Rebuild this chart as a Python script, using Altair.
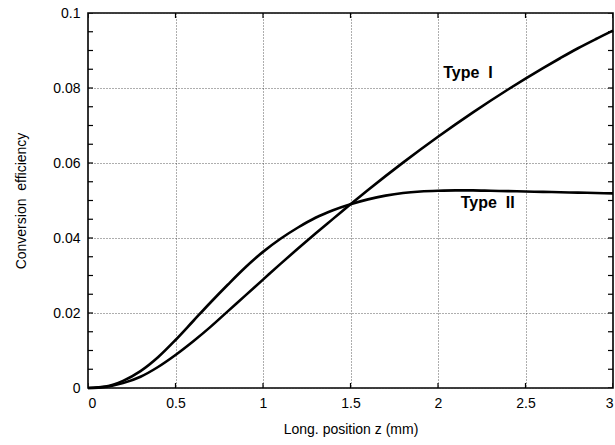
import altair as alt
import pandas as pd

# Longitudinal position along the crystal (mm)
z_mm = [0.0, 0.1, 0.2, 0.3, 0.4, 0.5, 0.6, 0.7, 0.8, 0.9, 1.0,
        1.1, 1.2, 1.3, 1.4, 1.5, 1.6, 1.7, 1.8, 1.9, 2.0,
        2.1, 2.2, 2.3, 2.4, 2.5, 2.6, 2.7, 2.8, 2.9, 3.0]

# Conversion efficiency, type I phase matching
eff_type1 = [0.0, 0.0003, 0.0013, 0.0030, 0.0056, 0.0088, 0.0124, 0.0163, 0.0205, 0.0247, 0.0289,
             0.0331, 0.0372, 0.0412, 0.0451, 0.0490, 0.0528, 0.0565, 0.0601, 0.0636, 0.0670,
             0.0703, 0.0735, 0.0766, 0.0796, 0.0825, 0.0853, 0.0880, 0.0906, 0.0930, 0.0953]

# Conversion efficiency, type II phase matching
eff_type2 = [0.0, 0.0004, 0.0019, 0.0045, 0.0082, 0.0128, 0.0178, 0.0228, 0.0276, 0.0322, 0.0363,
             0.0398, 0.0428, 0.0454, 0.0474, 0.0490, 0.0503, 0.0513, 0.0520, 0.0524, 0.0526,
             0.0527, 0.0527, 0.0526, 0.0525, 0.0524, 0.0523, 0.0522, 0.0521, 0.0520, 0.0519]

# Curve annotations
label_text = ["Type\u00a0\u00a0I", "Type\u00a0\u00a0II"]
label_z = [2.03, 2.13]
label_eff = [0.0840, 0.0493]

x_major = [0, 0.5, 1, 1.5, 2, 2.5, 3]
y_major = [0, 0.02, 0.04, 0.06, 0.08, 0.1]
y_minor = [round(i * 0.005, 3) for i in range(21)]

FONT = "Liberation Sans"
W, H = 525, 375
X_MIN, X_MAX = 0, 3
Y_MIN, Y_MAX = 0, 0.1

df = pd.DataFrame({
    "z": z_mm * 2,
    "eff": eff_type1 + eff_type2,
    "series": ["Type I"] * len(z_mm) + ["Type II"] * len(z_mm),
})
labels = pd.DataFrame({"text": label_text, "z": label_z, "eff": label_eff})

# Frame tick positions: vertical ticks on bottom/top edges, horizontal on left/right
vticks = pd.DataFrame({
    "z": x_major * 2,
    "eff": [Y_MIN] * len(x_major) + [Y_MAX] * len(x_major),
})
hticks = pd.DataFrame({
    "z": [X_MIN] * len(y_minor) + [X_MAX] * len(y_minor),
    "eff": y_minor * 2,
})

xscale = alt.Scale(domain=[X_MIN, X_MAX], nice=False, zero=False)
yscale = alt.Scale(domain=[Y_MIN, Y_MAX], nice=False, zero=False)

grid_axis = dict(domain=False, ticks=False, tickSize=0, grid=True,
                 gridColor="#333333", gridDash=[1, 2], gridWidth=0.8,
                 labelFont=FONT, labelFontSize=14, labelColor="black",
                 titleFont=FONT, titleFontSize=14, titleFontWeight="normal",
                 titleColor="black", format="~g")

curves = alt.Chart(df).mark_line(color="black", strokeWidth=2.6, interpolate="monotone").encode(
    x=alt.X("z:Q", scale=xscale,
            axis=alt.Axis(values=x_major, labelPadding=8, titlePadding=12,
                          title="Long. position z (mm)", **grid_axis)),
    y=alt.Y("eff:Q", scale=yscale,
            axis=alt.Axis(values=y_major, labelPadding=8, titlePadding=24,
                          title="Conversion\u00a0\u00a0efficiency", **grid_axis)),
    detail="series:N",
)

text = alt.Chart(labels).mark_text(font=FONT, fontSize=16, fontWeight="bold",
                                   align="left", baseline="middle", color="black").encode(
    x=alt.X("z:Q", scale=xscale, axis=None),
    y=alt.Y("eff:Q", scale=yscale, axis=None),
    text="text:N",
)

# Ticks centred on the frame and clipped to it, so only the inward half shows
edge_vticks = alt.Chart(vticks).mark_tick(
    orient="vertical", size=10, thickness=1.2, color="black", opacity=1, clip=True
).encode(
    x=alt.X("z:Q", scale=xscale, axis=None),
    y=alt.Y("eff:Q", scale=yscale, axis=None),
)

edge_hticks = alt.Chart(hticks).mark_tick(
    orient="horizontal", size=10, thickness=1.2, color="black", opacity=1, clip=True
).encode(
    x=alt.X("z:Q", scale=xscale, axis=None),
    y=alt.Y("eff:Q", scale=yscale, axis=None),
)

chart = alt.layer(curves, text, edge_vticks, edge_hticks).resolve_axis(
    x="independent", y="independent"
).properties(
    width=W, height=H,
    autosize=alt.AutoSizeParams(type="none"),
    padding={"left": 88, "top": 13, "right": 2, "bottom": 57},
).configure_view(stroke="black", strokeWidth=1.6)

chart.save("out.html", embed_options={"renderer": "svg", "actions": False})
